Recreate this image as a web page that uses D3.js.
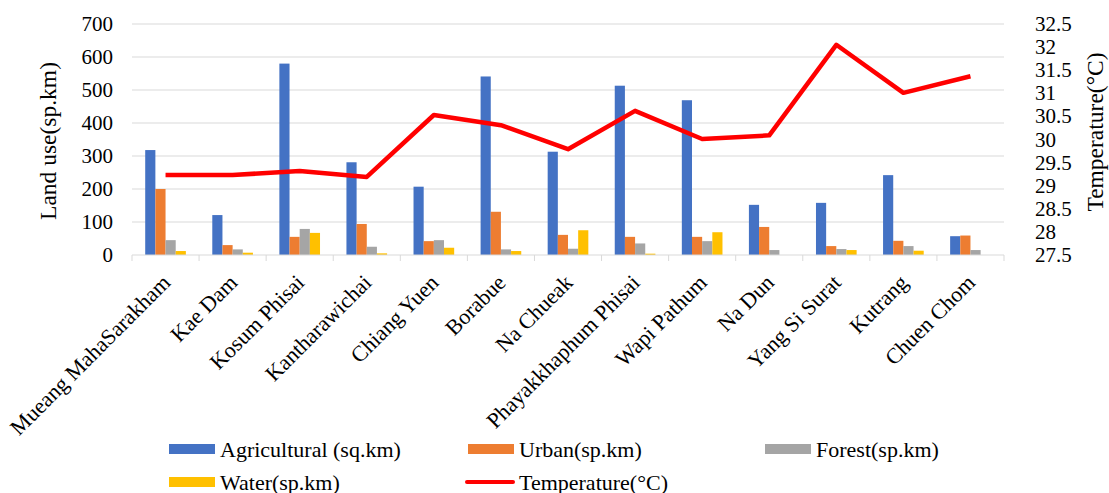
<!DOCTYPE html>
<html>
<head>
<meta charset="utf-8">
<script src="https://cdn.jsdelivr.net/npm/d3@7"></script>
<style>
  body { margin: 0; background: #fff; }
</style>
</head>
<body>
<div id="chart"></div>
<script>
// districts
const districts = ['Mueang MahaSarakham', 'Kae Dam', 'Kosum Phisai', 'Kantharawichai', 'Chiang Yuen',
  'Borabue', 'Na Chueak', 'Phayakkhaphum Phisai', 'Wapi Pathum', 'Na Dun', 'Yang Si Surat', 'Kutrang', 'Chuen Chom'];

const agricultural = [318, 121, 580, 281, 207, 541, 313, 513, 469, 152, 158, 242, 57];
const urban = [200, 30, 55, 94, 42, 131, 61, 55, 55, 85, 27, 43, 59];
const forest = [45, 17, 79, 25, 45, 17, 19, 35, 42, 15, 18, 27, 15];
const water = [12, 7, 67, 5, 22, 12, 75, 4, 69, 0, 15, 13, 0];
const temperature = [29.23, 29.23, 29.32, 29.19, 30.53, 30.31, 29.79, 30.62, 30.01, 30.09, 32.05, 31.01, 31.37];

const leftTicks = [0, 100, 200, 300, 400, 500, 600, 700];
const rightTicks = [27.5, 28, 28.5, 29, 29.5, 30, 30.5, 31, 31.5, 32, 32.5];

const seriesNames = ['Agricultural (sq.km)', 'Urban(sp.km)', 'Forest(sp.km)', 'Water(sp.km)'];
const seriesData = [agricultural, urban, forest, water];
const colors = ['#4472C4', '#ED7D31', '#A5A5A5', '#FFC000'];

const FONT = "'Liberation Serif', 'DejaVu Serif', serif";

let width = 1109, height = 493;
let m = { left: 132, right: 1004, top: 24, bottom: 255 };

let svg = d3.select('#chart').append('svg')
  .attr('width', width).attr('height', height)
  .attr('font-family', FONT);

let x = d3.scaleBand().domain(districts).range([m.left, m.right]);
let xs = d3.scaleBand().domain(d3.range(4)).range([0, x.bandwidth()]).paddingOuter(1.3).paddingInner(0);
let y = d3.scaleLinear().domain([0, 700]).range([m.bottom, m.top]);
let y2 = d3.scaleLinear().domain([27.5, 32.5]).range([m.bottom, m.top]);

// gridlines
svg.append('g').selectAll('line').data(leftTicks.slice(1)).enter().append('line')
  .attr('x1', m.left).attr('x2', m.right)
  .attr('y1', d => y(d)).attr('y2', d => y(d))
  .attr('stroke', '#d9d9d9').attr('stroke-width', 1);

// bars
seriesData.forEach((vals, s) => {
  svg.append('g').selectAll('rect').data(vals).enter().append('rect')
    .attr('x', (d, i) => x(districts[i]) + xs(s))
    .attr('width', xs.bandwidth())
    .attr('y', d => y(d))
    .attr('height', d => y(0) - y(d))
    .attr('fill', colors[s]);
});

// x axis
let xAxis = svg.append('g').attr('transform', `translate(0,${m.bottom})`);
xAxis.append('line').attr('x1', m.left).attr('x2', m.right).attr('stroke', '#d9d9d9');
xAxis.selectAll('.tk').data(districts.concat(['end'])).enter().append('line')
  .attr('x1', (d, i) => m.left + i * x.step()).attr('x2', (d, i) => m.left + i * x.step())
  .attr('y1', 0).attr('y2', 6).attr('stroke', '#d9d9d9');
xAxis.selectAll('text').data(districts).enter().append('text')
  .attr('transform', d => `translate(${x(d) + x.bandwidth() / 2 + 6},${29}) rotate(-45)`)
  .attr('text-anchor', 'end')
  .style('font-size', '22px')
  .text(d => d);

// left axis labels
svg.append('g').selectAll('text').data(leftTicks).enter().append('text')
  .attr('x', 113).attr('y', d => y(d) + 7)
  .attr('text-anchor', 'end').style('font-size', '21px')
  .text(d => d);

// right axis labels
svg.append('g').selectAll('text').data(rightTicks).enter().append('text')
  .attr('x', 1035).attr('y', d => y2(d) + 7)
  .attr('text-anchor', 'start').style('font-size', '21px')
  .text(d => d);

// axis titles
svg.append('text')
  .attr('transform', `translate(56,141) rotate(-90)`)
  .attr('text-anchor', 'middle').style('font-size', '23.5px')
  .text('Land use(sp.km)');
svg.append('text')
  .attr('transform', `translate(1103,132) rotate(-90)`)
  .attr('text-anchor', 'middle').style('font-size', '23.5px')
  .text('Temperature(°C)');

// temperature line
let line = d3.line()
  .x((d, i) => x(districts[i]) + x.bandwidth() / 2)
  .y(d => y2(d));
svg.append('path').datum(temperature)
  .attr('d', line)
  .attr('fill', 'none').attr('stroke', '#FF0000').attr('stroke-width', 4.5)
  .attr('stroke-linejoin', 'round');

// legend
let legendItems = [
  { name: seriesNames[0], color: colors[0], x: 169, y: 449, type: 'rect' },
  { name: seriesNames[1], color: colors[1], x: 468, y: 449, type: 'rect' },
  { name: seriesNames[2], color: colors[2], x: 765, y: 449, type: 'rect' },
  { name: seriesNames[3], color: colors[3], x: 169, y: 482, type: 'rect' },
  { name: 'Temperature(°C)', color: '#FF0000', x: 465, y: 482, type: 'line' }
];
let lg = svg.append('g').selectAll('g').data(legendItems).enter().append('g')
  .attr('transform', d => `translate(${d.x},${d.y})`);
lg.filter(d => d.type === 'rect').append('rect')
  .attr('x', 0).attr('y', -5).attr('width', 46).attr('height', 10)
  .attr('fill', d => d.color);
lg.filter(d => d.type === 'line').append('line')
  .attr('x1', 2).attr('x2', 48).attr('y1', 0).attr('y2', 0)
  .attr('stroke', d => d.color).attr('stroke-width', 4).attr('stroke-linecap', 'round');
lg.append('text')
  .attr('x', d => d.type === 'line' ? 54 : 51).attr('y', 7.5)
  .style('font-size', '22px')
  .text(d => d.name);
</script>
</body>
</html>
